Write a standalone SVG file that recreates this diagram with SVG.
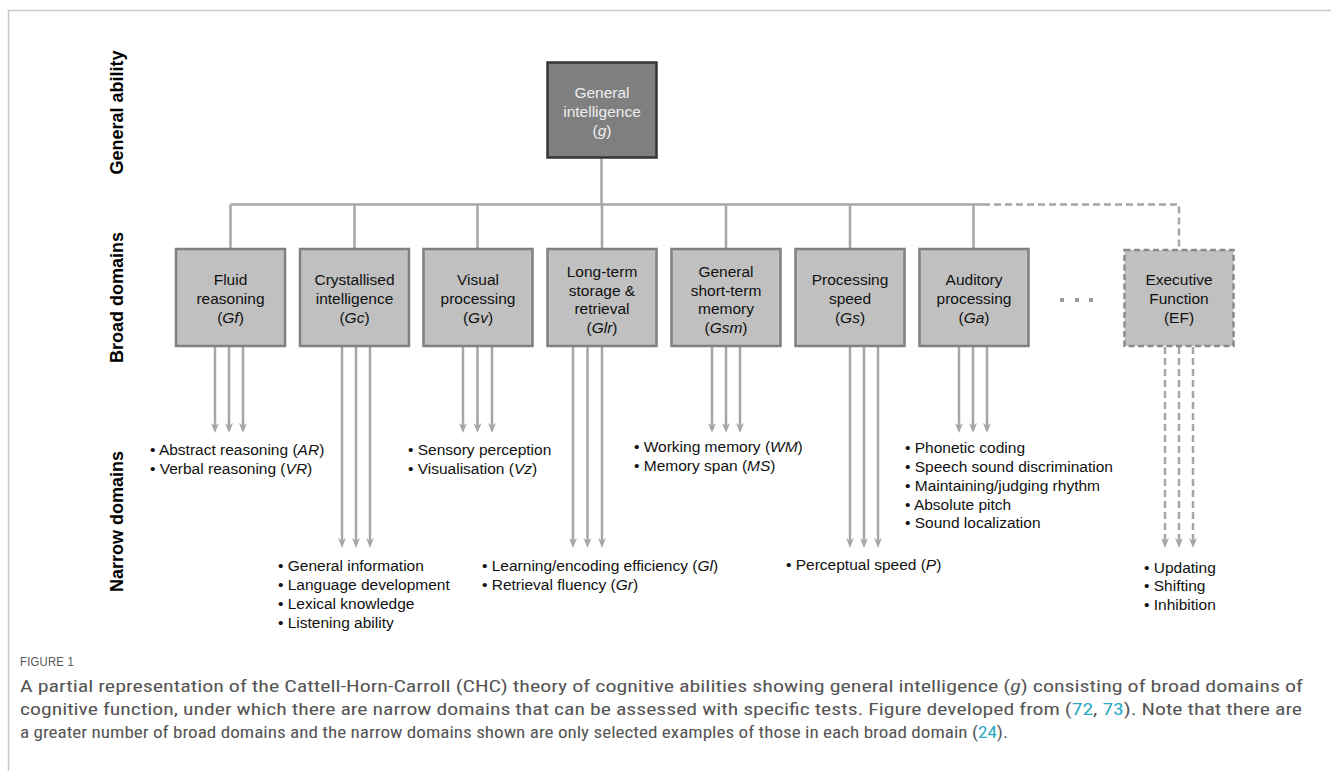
<svg xmlns="http://www.w3.org/2000/svg" width="1331" height="771" viewBox="0 0 1331 771">
<style>
text{font-family:"Liberation Sans",Arial,Helvetica,sans-serif;}
.lab{font-size:18px;font-weight:bold;fill:#000;}
.bt{font-size:15.5px;fill:#111;text-anchor:middle;}
.gt{font-size:15.5px;fill:#eee;text-anchor:middle;}
.nt{font-size:15.5px;fill:#111;}
.box{fill:#c0c0c0;stroke:#808080;stroke-width:2.5;}
.dbox{fill:#c0c0c0;stroke:#8a8a8a;stroke-width:2.5;stroke-dasharray:6 3.5;}
.conn{stroke:#a6a6a6;stroke-width:2.5;fill:none;}
.dconn{stroke:#a6a6a6;stroke-width:2.5;fill:none;stroke-dasharray:7 4;}
.arr{stroke:#a6a6a6;stroke-width:2.5;fill:none;marker-end:url(#ah);}
.darr{stroke:#a6a6a6;stroke-width:2.5;fill:none;stroke-dasharray:7 4;marker-end:url(#ah);}
.cap{font-family:"Liberation Sans Narrow","Roboto Condensed","Liberation Sans",sans-serif;font-size:17px;fill:#555;}
.lnk{fill:#2aa9c4;}
</style>
<defs>
<marker id="ah" markerUnits="userSpaceOnUse" markerWidth="12" markerHeight="10" refX="3" refY="4" orient="auto">
<path d="M0,0 L10,4 L0,8 L3,4 z" fill="#a6a6a6"/>
</marker>
</defs>
<rect width="1331" height="771" fill="#fff"/>
<g id="frame">
<path d="M8.5,771 V10.5 H1331" fill="none" stroke="#c8c8c8" stroke-width="1.5"/>
</g>
<g id="row-labels">
<text class="lab" transform="translate(123,112.5) rotate(-90)" text-anchor="middle">General ability</text>
<text class="lab" transform="translate(123,297.5) rotate(-90)" text-anchor="middle">Broad domains</text>
<text class="lab" transform="translate(123,521.5) rotate(-90)" text-anchor="middle">Narrow domains</text>
</g>
<g id="connectors">
<path class="conn" d="M601.5,158 V204.5"/>
<path class="conn" d="M230.5,204.5 H983"/>
<path class="dconn" d="M983,204.5 H1179 V249"/>
<path class="conn" d="M230.5,204.5 V249 M354.5,204.5 V249 M477.5,204.5 V249 M602,204.5 V249 M726,204.5 V249 M850,204.5 V249 M973.5,204.5 V249"/>
<path class="arr" d="M215,346 V426"/>
<path class="arr" d="M229,346 V426"/>
<path class="arr" d="M243,346 V426"/>
<path class="arr" d="M342,346 V541"/>
<path class="arr" d="M356,346 V541"/>
<path class="arr" d="M370,346 V541"/>
<path class="arr" d="M463,346 V426"/>
<path class="arr" d="M477.5,346 V426"/>
<path class="arr" d="M492,346 V426"/>
<path class="arr" d="M573,346 V541"/>
<path class="arr" d="M587.5,346 V541"/>
<path class="arr" d="M602,346 V541"/>
<path class="arr" d="M712,346 V426"/>
<path class="arr" d="M726,346 V426"/>
<path class="arr" d="M740,346 V426"/>
<path class="arr" d="M850,346 V541"/>
<path class="arr" d="M864,346 V541"/>
<path class="arr" d="M878,346 V541"/>
<path class="arr" d="M959,346 V426"/>
<path class="arr" d="M973,346 V426"/>
<path class="arr" d="M987,346 V426"/>
<path class="darr" d="M1165,347 V541"/>
<path class="darr" d="M1179,347 V541"/>
<path class="darr" d="M1193,347 V541"/>
</g>
<g id="node-g">
<rect x="547.5" y="62.5" width="109" height="95" fill="#7f7f7f" stroke="#353535" stroke-width="2.5"/>
<text class="gt" x="602" y="98">General</text>
<text class="gt" x="602" y="117">intelligence</text>
<text class="gt" x="602" y="135.5">(<tspan font-style="italic">g</tspan>)</text>
</g>
<g id="node-gf">
<rect class="box" x="176" y="249" width="109" height="97"/>
<text class="bt" x="230.5" y="284.5">Fluid</text>
<text class="bt" x="230.5" y="303.5">reasoning</text>
<text class="bt" x="230.5" y="322.5">(<tspan font-style="italic">Gf</tspan>)</text>
</g>
<g id="node-gc">
<rect class="box" x="300" y="249" width="109" height="97"/>
<text class="bt" x="354.5" y="284.5">Crystallised</text>
<text class="bt" x="354.5" y="303.5">intelligence</text>
<text class="bt" x="354.5" y="322.5">(<tspan font-style="italic">Gc</tspan>)</text>
</g>
<g id="node-gv">
<rect class="box" x="423.5" y="249" width="109" height="97"/>
<text class="bt" x="478" y="284.5">Visual</text>
<text class="bt" x="478" y="303.5">processing</text>
<text class="bt" x="478" y="322.5">(<tspan font-style="italic">Gv</tspan>)</text>
</g>
<g id="node-glr">
<rect class="box" x="547.5" y="249" width="109" height="97"/>
<text class="bt" x="602" y="276.5">Long-term</text>
<text class="bt" x="602" y="295.5">storage &amp;</text>
<text class="bt" x="602" y="314">retrieval</text>
<text class="bt" x="602" y="333">(<tspan font-style="italic">Glr</tspan>)</text>
</g>
<g id="node-gsm">
<rect class="box" x="671.5" y="249" width="109" height="97"/>
<text class="bt" x="726" y="276.5">General</text>
<text class="bt" x="726" y="295.5">short-term</text>
<text class="bt" x="726" y="314">memory</text>
<text class="bt" x="726" y="333">(<tspan font-style="italic">Gsm</tspan>)</text>
</g>
<g id="node-gs">
<rect class="box" x="795.5" y="249" width="109" height="97"/>
<text class="bt" x="850" y="284.5">Processing</text>
<text class="bt" x="850" y="303.5">speed</text>
<text class="bt" x="850" y="322.5">(<tspan font-style="italic">Gs</tspan>)</text>
</g>
<g id="node-ga">
<rect class="box" x="919.5" y="249" width="109" height="97"/>
<text class="bt" x="974" y="284.5">Auditory</text>
<text class="bt" x="974" y="303.5">processing</text>
<text class="bt" x="974" y="322.5">(<tspan font-style="italic">Ga</tspan>)</text>
</g>
<g id="ellipsis">
<rect x="1060" y="298" width="4" height="4" fill="#999"/>
<rect x="1075" y="298" width="4" height="4" fill="#999"/>
<rect x="1089" y="298" width="4" height="4" fill="#999"/>
</g>
<g id="node-ef">
<rect class="dbox" x="1124.5" y="250" width="109" height="96"/>
<text class="bt" x="1179" y="284.5">Executive</text>
<text class="bt" x="1179" y="303.5">Function</text>
<text class="bt" x="1179" y="322.5">(EF)</text>
</g>
<g id="narrow-gf">
<text class="nt" x="150" y="454.5">• Abstract reasoning (<tspan font-style="italic">AR</tspan>)</text>
<text class="nt" x="150" y="473.5">• Verbal reasoning (<tspan font-style="italic">VR</tspan>)</text>
</g>
<g id="narrow-gc">
<text class="nt" x="278" y="571">• General information</text>
<text class="nt" x="278" y="590">• Language development</text>
<text class="nt" x="278" y="608.5">• Lexical knowledge</text>
<text class="nt" x="278" y="627.5">• Listening ability</text>
</g>
<g id="narrow-gv">
<text class="nt" x="408" y="454.5">• Sensory perception</text>
<text class="nt" x="408" y="473.5">• Visualisation (<tspan font-style="italic">Vz</tspan>)</text>
</g>
<g id="narrow-glr">
<text class="nt" x="482" y="571">• Learning/encoding efficiency (<tspan font-style="italic">Gl</tspan>)</text>
<text class="nt" x="482" y="590">• Retrieval fluency (<tspan font-style="italic">Gr</tspan>)</text>
</g>
<g id="narrow-gsm">
<text class="nt" x="634" y="452">• Working memory (<tspan font-style="italic">WM</tspan>)</text>
<text class="nt" x="634" y="471">• Memory span (<tspan font-style="italic">MS</tspan>)</text>
</g>
<g id="narrow-gs">
<text class="nt" x="786" y="570">• Perceptual speed (<tspan font-style="italic">P</tspan>)</text>
</g>
<g id="narrow-ga">
<text class="nt" x="905" y="453">• Phonetic coding</text>
<text class="nt" x="905" y="472">• Speech sound discrimination</text>
<text class="nt" x="905" y="490.5">• Maintaining/judging rhythm</text>
<text class="nt" x="905" y="509.5">• Absolute pitch</text>
<text class="nt" x="905" y="528">• Sound localization</text>
</g>
<g id="narrow-ef">
<text class="nt" x="1144" y="572.5">• Updating</text>
<text class="nt" x="1144" y="591">• Shifting</text>
<text class="nt" x="1144" y="609.5">• Inhibition</text>
</g>
<g id="caption">
<text x="20" y="666" font-size="12" fill="#555" letter-spacing="0.3" font-family="'Liberation Sans Narrow','Liberation Sans',sans-serif" textLength="54" lengthAdjust="spacingAndGlyphs">FIGURE 1</text>
<text class="cap" x="20" y="692" textLength="1283" lengthAdjust="spacingAndGlyphs">A partial representation of the Cattell-Horn-Carroll (CHC) theory of cognitive abilities showing general intelligence (<tspan font-style="italic">g</tspan>) consisting of broad domains of</text>
<text class="cap" x="20" y="715" textLength="1282" lengthAdjust="spacingAndGlyphs">cognitive function, under which there are narrow domains that can be assessed with specific tests. Figure developed from (<tspan class="lnk">72</tspan>, <tspan class="lnk">73</tspan>). Note that there are</text>
<text class="cap" x="20" y="738" textLength="988" lengthAdjust="spacingAndGlyphs">a greater number of broad domains and the narrow domains shown are only selected examples of those in each broad domain (<tspan class="lnk">24</tspan>).</text>
</g>
</svg>
